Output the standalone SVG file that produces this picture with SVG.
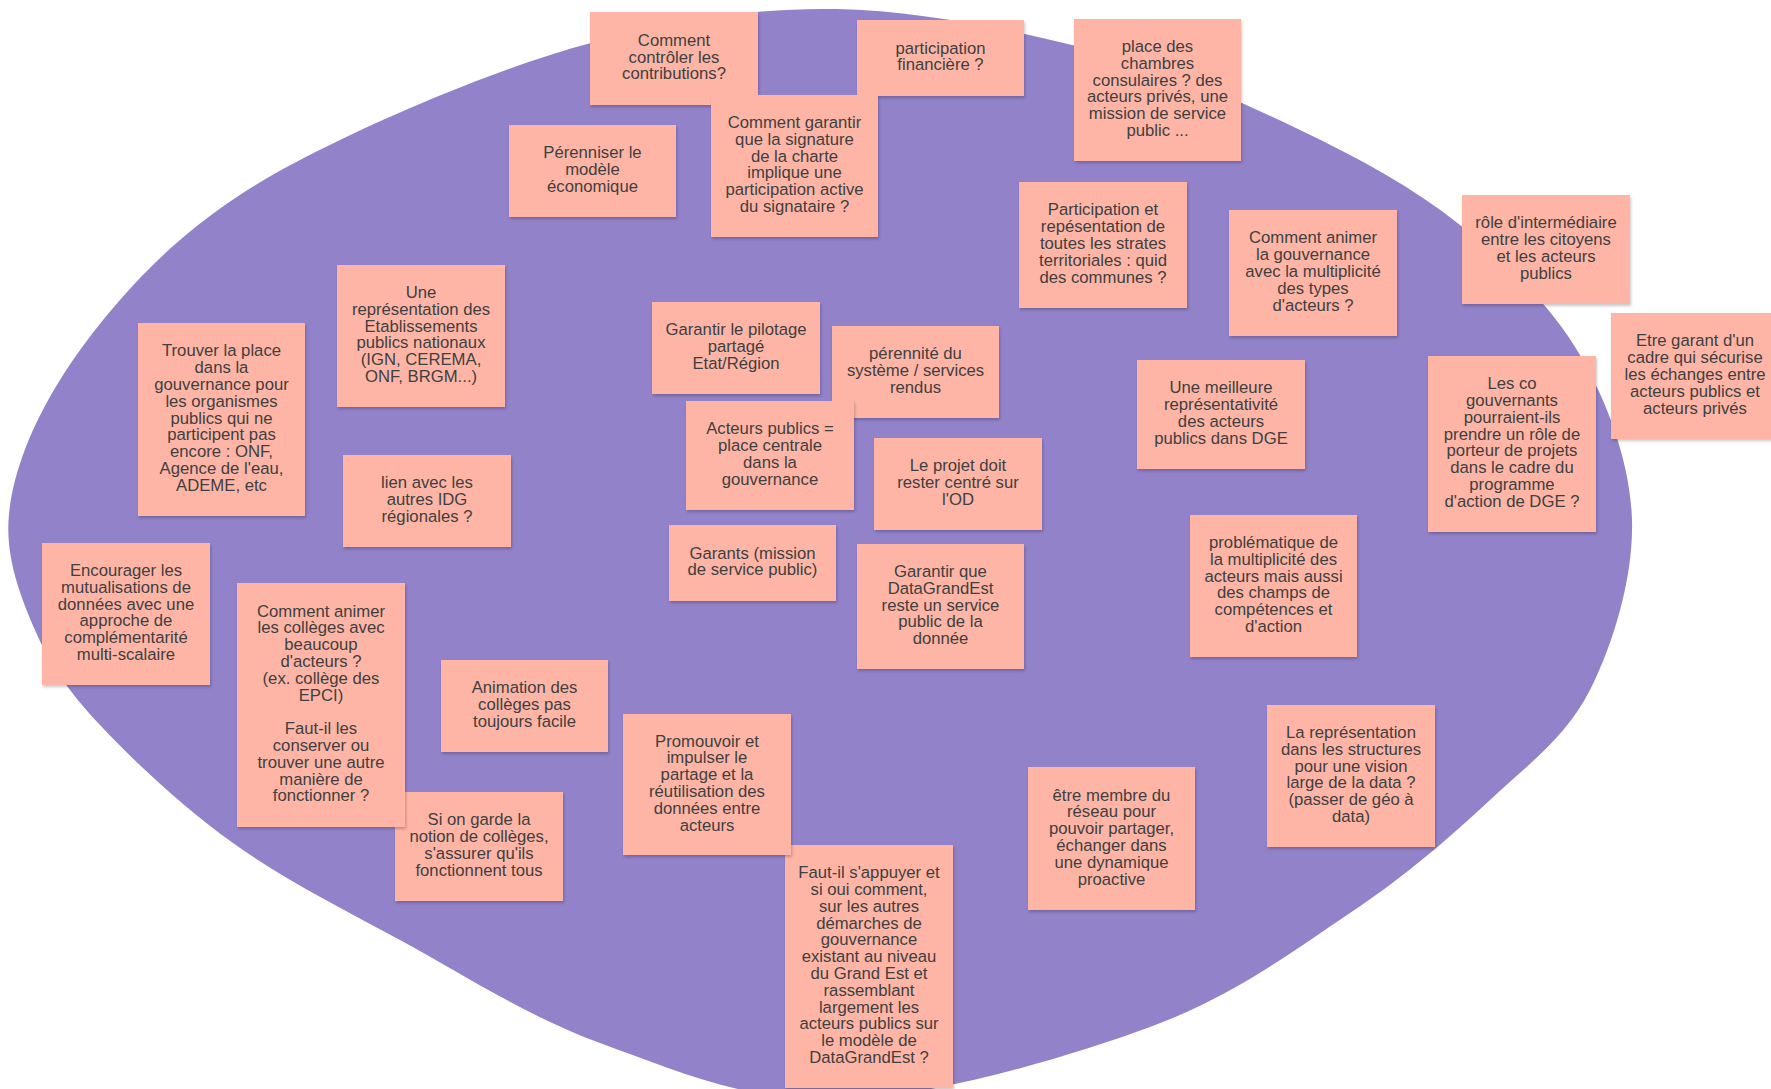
<svg xmlns="http://www.w3.org/2000/svg" width="1771" height="1089" viewBox="0 0 1771 1089">
<defs>
<style>
.note rect{fill:#FEB5A6;filter:url(#sh);}
.note text{font-family:"Liberation Sans",Arial,sans-serif;font-size:16.7px;fill:#404040;text-anchor:middle;}
</style>
<filter id="sh" x="-10%" y="-10%" width="130%" height="130%">
<feDropShadow dx="1" dy="2" stdDeviation="1.5" flood-color="#000" flood-opacity="0.22"/>
</filter>
</defs>
<rect width="1771" height="1089" fill="#ffffff"/>
<path id="ellipse" fill="#9282CA" d="M836,9 C920.8,10.5 1022.7,31.8 1100,52 C1177.3,72.2 1240,101.2 1300,130 C1360,158.8 1413.3,187.5 1460,225 C1506.7,262.5 1551.3,305.8 1580,355 C1608.7,404.2 1630.3,464.2 1632,520 C1633.7,575.8 1613.7,643.3 1590,690 C1566.3,736.7 1530,762.8 1490,800 C1450,837.2 1406.7,875.2 1350,913 C1293.3,950.8 1235,995.8 1150,1027 C1065,1058.2 931.7,1097.3 840,1100 C748.3,1102.7 673.3,1069.7 600,1043 C526.7,1016.3 461.2,973.3 400,940 C338.8,906.7 283,878.8 233,843 C183,807.2 133,760.5 100,725 C67,689.5 50.2,665.2 35,630 C19.8,594.8 4.8,555.7 9,514 C13.2,472.3 31.5,425.7 60,380 C88.5,334.3 133.3,280 180,240 C226.7,200 271.5,172.8 340,140 C408.5,107.2 508.3,64.8 591,43 C673.7,21.2 751.2,7.5 836,9 Z"/>
<g id="connectors"></g>

<g id="n1" class="note"><rect x="590" y="12" width="168" height="93"/><text x="674" y="45.7"><tspan x="674">Comment</tspan><tspan x="674" dy="16.8">contrôler les</tspan><tspan x="674" dy="16.8">contributions?</tspan></text></g>

<g id="n2" class="note"><rect x="857" y="20" width="167" height="76"/><text x="940.5" y="53.6"><tspan x="940.5">participation</tspan><tspan x="940.5" dy="16.8">financière ?</tspan></text></g>

<g id="n3" class="note"><rect x="1074" y="19" width="167" height="142"/><text x="1157.5" y="52"><tspan x="1157.5">place des</tspan><tspan x="1157.5" dy="16.8">chambres</tspan><tspan x="1157.5" dy="16.8">consulaires ? des</tspan><tspan x="1157.5" dy="16.8">acteurs privés, une</tspan><tspan x="1157.5" dy="16.8">mission de service</tspan><tspan x="1157.5" dy="16.8">public ...</tspan></text></g>

<g id="n4" class="note"><rect x="509" y="125" width="167" height="92"/><text x="592.5" y="158.2"><tspan x="592.5">Pérenniser le</tspan><tspan x="592.5" dy="16.8">modèle</tspan><tspan x="592.5" dy="16.8">économique</tspan></text></g>

<g id="n5" class="note"><rect x="711" y="95" width="167" height="142"/><text x="794.5" y="128"><tspan x="794.5">Comment garantir</tspan><tspan x="794.5" dy="16.8">que la signature</tspan><tspan x="794.5" dy="16.8">de la charte</tspan><tspan x="794.5" dy="16.8">implique une</tspan><tspan x="794.5" dy="16.8">participation active</tspan><tspan x="794.5" dy="16.8">du signataire ?</tspan></text></g>

<g id="n6" class="note"><rect x="1019" y="182" width="168" height="126"/><text x="1103" y="215.4"><tspan x="1103">Participation et</tspan><tspan x="1103" dy="16.8">repésentation de</tspan><tspan x="1103" dy="16.8">toutes les strates</tspan><tspan x="1103" dy="16.8">territoriales : quid</tspan><tspan x="1103" dy="16.8">des communes ?</tspan></text></g>

<g id="n7" class="note"><rect x="1229" y="210" width="168" height="126"/><text x="1313" y="243.4"><tspan x="1313">Comment animer</tspan><tspan x="1313" dy="16.8">la gouvernance</tspan><tspan x="1313" dy="16.8">avec la multiplicité</tspan><tspan x="1313" dy="16.8">des types</tspan><tspan x="1313" dy="16.8">d'acteurs ?</tspan></text></g>

<g id="n8" class="note"><rect x="1462" y="195" width="168" height="109"/><text x="1546" y="228.3"><tspan x="1546">rôle d'intermédiaire</tspan><tspan x="1546" dy="16.8">entre les citoyens</tspan><tspan x="1546" dy="16.8">et les acteurs</tspan><tspan x="1546" dy="16.8">publics</tspan></text></g>

<g id="n9" class="note"><rect x="1611" y="313" width="168" height="126"/><text x="1695" y="346.4"><tspan x="1695">Etre garant d'un</tspan><tspan x="1695" dy="16.8">cadre qui sécurise</tspan><tspan x="1695" dy="16.8">les échanges entre</tspan><tspan x="1695" dy="16.8">acteurs publics et</tspan><tspan x="1695" dy="16.8">acteurs privés</tspan></text></g>

<g id="n10" class="note"><rect x="337" y="265" width="168" height="142"/><text x="421" y="298"><tspan x="421">Une</tspan><tspan x="421" dy="16.8">représentation des</tspan><tspan x="421" dy="16.8">Etablissements</tspan><tspan x="421" dy="16.8">publics nationaux</tspan><tspan x="421" dy="16.8">(IGN, CEREMA,</tspan><tspan x="421" dy="16.8">ONF, BRGM...)</tspan></text></g>

<g id="n11" class="note"><rect x="138" y="323" width="167" height="193"/><text x="221.5" y="356.3"><tspan x="221.5">Trouver la place</tspan><tspan x="221.5" dy="16.8">dans la</tspan><tspan x="221.5" dy="16.8">gouvernance pour</tspan><tspan x="221.5" dy="16.8">les organismes</tspan><tspan x="221.5" dy="16.8">publics qui ne</tspan><tspan x="221.5" dy="16.8">participent pas</tspan><tspan x="221.5" dy="16.8">encore : ONF,</tspan><tspan x="221.5" dy="16.8">Agence de l'eau,</tspan><tspan x="221.5" dy="16.8">ADEME, etc</tspan></text></g>

<g id="n12" class="note"><rect x="652" y="302" width="168" height="92"/><text x="736" y="335.2"><tspan x="736">Garantir le pilotage</tspan><tspan x="736" dy="16.8">partagé</tspan><tspan x="736" dy="16.8">Etat/Région</tspan></text></g>

<g id="n13" class="note"><rect x="832" y="326" width="167" height="92"/><text x="915.5" y="359.2"><tspan x="915.5">pérennité du</tspan><tspan x="915.5" dy="16.8">système / services</tspan><tspan x="915.5" dy="16.8">rendus</tspan></text></g>

<g id="n14" class="note"><rect x="1137" y="360" width="168" height="109"/><text x="1221" y="393.3"><tspan x="1221">Une meilleure</tspan><tspan x="1221" dy="16.8">représentativité</tspan><tspan x="1221" dy="16.8">des acteurs</tspan><tspan x="1221" dy="16.8">publics dans DGE</tspan></text></g>

<g id="n15" class="note"><rect x="1428" y="356" width="168" height="176"/><text x="1512" y="389.2"><tspan x="1512">Les co</tspan><tspan x="1512" dy="16.8">gouvernants</tspan><tspan x="1512" dy="16.8">pourraient-ils</tspan><tspan x="1512" dy="16.8">prendre un rôle de</tspan><tspan x="1512" dy="16.8">porteur de projets</tspan><tspan x="1512" dy="16.8">dans le cadre du</tspan><tspan x="1512" dy="16.8">programme</tspan><tspan x="1512" dy="16.8">d'action de DGE ?</tspan></text></g>

<g id="n16" class="note"><rect x="686" y="401" width="168" height="109"/><text x="770" y="434.3"><tspan x="770">Acteurs publics =</tspan><tspan x="770" dy="16.8">place centrale</tspan><tspan x="770" dy="16.8">dans la</tspan><tspan x="770" dy="16.8">gouvernance</tspan></text></g>

<g id="n17" class="note"><rect x="343" y="455" width="168" height="92"/><text x="427" y="488.2"><tspan x="427">lien avec les</tspan><tspan x="427" dy="16.8">autres IDG</tspan><tspan x="427" dy="16.8">régionales ?</tspan></text></g>

<g id="n18" class="note"><rect x="874" y="438" width="168" height="92"/><text x="958" y="471.2"><tspan x="958">Le projet doit</tspan><tspan x="958" dy="16.8">rester centré sur</tspan><tspan x="958" dy="16.8">l'OD</tspan></text></g>

<g id="n19" class="note"><rect x="1190" y="515" width="167" height="142"/><text x="1273.5" y="548"><tspan x="1273.5">problématique de</tspan><tspan x="1273.5" dy="16.8">la multiplicité des</tspan><tspan x="1273.5" dy="16.8">acteurs mais aussi</tspan><tspan x="1273.5" dy="16.8">des champs de</tspan><tspan x="1273.5" dy="16.8">compétences et</tspan><tspan x="1273.5" dy="16.8">d'action</tspan></text></g>

<g id="n20" class="note"><rect x="669" y="525" width="167" height="76"/><text x="752.5" y="558.6"><tspan x="752.5">Garants (mission</tspan><tspan x="752.5" dy="16.8">de service public)</tspan></text></g>

<g id="n21" class="note"><rect x="857" y="544" width="167" height="125"/><text x="940.5" y="576.9"><tspan x="940.5">Garantir que</tspan><tspan x="940.5" dy="16.8">DataGrandEst</tspan><tspan x="940.5" dy="16.8">reste un service</tspan><tspan x="940.5" dy="16.8">public de la</tspan><tspan x="940.5" dy="16.8">donnée</tspan></text></g>

<g id="n22" class="note"><rect x="42" y="543" width="168" height="142"/><text x="126" y="576"><tspan x="126">Encourager les</tspan><tspan x="126" dy="16.8">mutualisations de</tspan><tspan x="126" dy="16.8">données avec une</tspan><tspan x="126" dy="16.8">approche de</tspan><tspan x="126" dy="16.8">complémentarité</tspan><tspan x="126" dy="16.8">multi-scalaire</tspan></text></g>

<g id="n26" class="note"><rect x="395" y="792" width="168" height="109"/><text x="479" y="825.3"><tspan x="479">Si on garde la</tspan><tspan x="479" dy="16.8">notion de collèges,</tspan><tspan x="479" dy="16.8">s'assurer qu'ils</tspan><tspan x="479" dy="16.8">fonctionnent tous</tspan></text></g>

<g id="n23" class="note"><rect x="237" y="583" width="168" height="244"/><text x="321" y="616.6"><tspan x="321">Comment animer</tspan><tspan x="321" dy="16.8">les collèges avec</tspan><tspan x="321" dy="16.8">beaucoup</tspan><tspan x="321" dy="16.8">d'acteurs ?</tspan><tspan x="321" dy="16.8">(ex. collège des</tspan><tspan x="321" dy="16.8">EPCI)</tspan><tspan x="321" dy="33.6">Faut-il les</tspan><tspan x="321" dy="16.8">conserver ou</tspan><tspan x="321" dy="16.8">trouver une autre</tspan><tspan x="321" dy="16.8">manière de</tspan><tspan x="321" dy="16.8">fonctionner ?</tspan></text></g>

<g id="n24" class="note"><rect x="441" y="660" width="167" height="92"/><text x="524.5" y="693.2"><tspan x="524.5">Animation des</tspan><tspan x="524.5" dy="16.8">collèges pas</tspan><tspan x="524.5" dy="16.8">toujours facile</tspan></text></g>

<g id="n27" class="note"><rect x="785" y="845" width="168" height="243"/><text x="869" y="878.1"><tspan x="869">Faut-il s'appuyer et</tspan><tspan x="869" dy="16.8">si oui comment,</tspan><tspan x="869" dy="16.8">sur les autres</tspan><tspan x="869" dy="16.8">démarches de</tspan><tspan x="869" dy="16.8">gouvernance</tspan><tspan x="869" dy="16.8">existant au niveau</tspan><tspan x="869" dy="16.8">du Grand Est et</tspan><tspan x="869" dy="16.8">rassemblant</tspan><tspan x="869" dy="16.8">largement les</tspan><tspan x="869" dy="16.8">acteurs publics sur</tspan><tspan x="869" dy="16.8">le modèle de</tspan><tspan x="869" dy="16.8">DataGrandEst ?</tspan></text></g>

<g id="n25" class="note"><rect x="623" y="714" width="168" height="141"/><text x="707" y="746.5"><tspan x="707">Promouvoir et</tspan><tspan x="707" dy="16.8">impulser le</tspan><tspan x="707" dy="16.8">partage et la</tspan><tspan x="707" dy="16.8">réutilisation des</tspan><tspan x="707" dy="16.8">données entre</tspan><tspan x="707" dy="16.8">acteurs</tspan></text></g>

<g id="n28" class="note"><rect x="1028" y="767" width="167" height="143"/><text x="1111.5" y="800.5"><tspan x="1111.5">être membre du</tspan><tspan x="1111.5" dy="16.8">réseau pour</tspan><tspan x="1111.5" dy="16.8">pouvoir partager,</tspan><tspan x="1111.5" dy="16.8">échanger dans</tspan><tspan x="1111.5" dy="16.8">une dynamique</tspan><tspan x="1111.5" dy="16.8">proactive</tspan></text></g>

<g id="n29" class="note"><rect x="1267" y="705" width="168" height="142"/><text x="1351" y="738"><tspan x="1351">La représentation</tspan><tspan x="1351" dy="16.8">dans les structures</tspan><tspan x="1351" dy="16.8">pour une vision</tspan><tspan x="1351" dy="16.8">large de la data ?</tspan><tspan x="1351" dy="16.8">(passer de géo à</tspan><tspan x="1351" dy="16.8">data)</tspan></text></g>
</svg>
